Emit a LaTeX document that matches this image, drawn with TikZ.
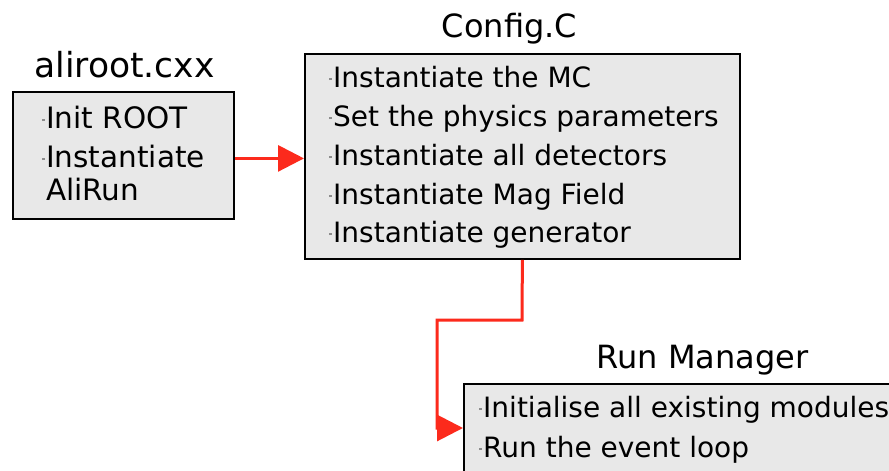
\documentclass[tikz,border=0pt]{standalone}
\usepackage{fontspec}
\setmainfont{DejaVu Sans}
\usetikzlibrary{arrows.meta}
\definecolor{boxfill}{RGB}{232,232,232}
\definecolor{arrowred}{RGB}{252,42,28}
\definecolor{bulletgray}{RGB}{140,140,140}
\newcommand{\itemdot}{{\color{bulletgray}\rule[7pt]{2.5pt}{2.5pt}}\hspace{1.5pt}}
\begin{document}
\begin{tikzpicture}[x=1pt,y=-1pt,
  box/.style={draw=black,line width=1.8pt,fill=boxfill,inner sep=0pt,anchor=north west},
  item/.style={anchor=base west,inner sep=0pt,font=\fontsize{28}{34}\selectfont},
  bigitem/.style={item,font=\fontsize{29.5}{35}\selectfont},
  title/.style={anchor=base,inner sep=0pt,font=\fontsize{32}{38}\selectfont},
  flow/.style={draw=arrowred,line width=3pt,-{Triangle[length=26pt,width=26pt]}}]
\useasboundingbox (0,0) rectangle (889,471);
\fill[white] (0,0) rectangle (889,471);
% boxes
\node[box,minimum width=221pt,minimum height=127pt] (b1) at (12,91) {};
\node[box,minimum width=435pt,minimum height=205pt] (b2) at (304,53) {};
\node[box,minimum width=440pt,minimum height=100pt] (b3) at (463,383) {};
% titles
\node[title,font=\fontsize{34.5}{40}\selectfont] (t1) at (124.5,77) {aliroot.cxx};
\node[title] (t2) at (509.5,37) {Config.C};
\node[title] (t3) at (702.5,368) {Run Manager};
% box 1 items
\node[bigitem] (i11) at (42,128) {\itemdot Init ROOT};
\node[bigitem] (i12) at (42,167) {\itemdot Instantiate};
\node[bigitem] (i13) at (46,200) {AliRun};
% box 2 items
\node[item] (i21) at (329,87) {\itemdot Instantiate the MC};
\node[item] (i22) at (329,126) {\itemdot Set the physics parameters};
\node[item] (i23) at (329,165) {\itemdot Instantiate all detectors};
\node[item] (i24) at (329,204) {\itemdot Instantiate Mag Field};
\node[item] (i25) at (329,242) {\itemdot Instantiate generator};
% box 3 items
\node[item] (i31) at (479,417) {\itemdot Initialise all existing modules};
\node[item] (i32) at (479,457) {\itemdot Run the event loop};
% connectors
\draw[flow] ([yshift=-3pt]b1.east) -- ([yshift=-3pt]b1.east -| b2.west);
\coordinate (bend1) at (522,320);
\coordinate (bend2) at (437,320);
\coordinate (bend3) at (437,428);
\draw[flow] (b2.south) -- (bend1) -- (bend2) -- (bend3) -- (bend3 -| b3.west);
\end{tikzpicture}
\end{document}
